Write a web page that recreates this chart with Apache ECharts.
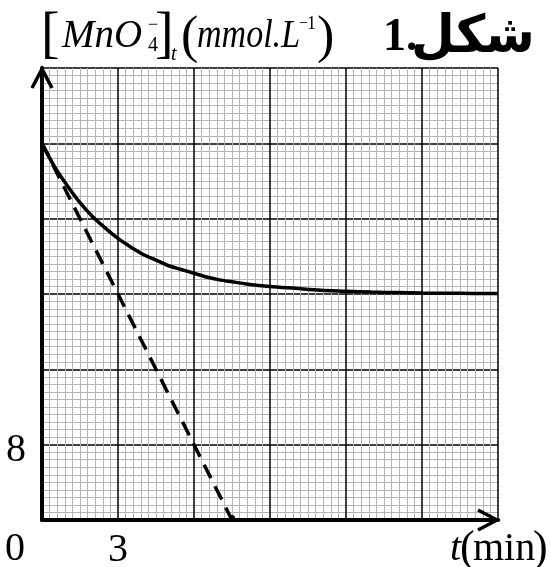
<!DOCTYPE html>
<html>
<head>
<meta charset="utf-8">
<script src="https://cdn.jsdelivr.net/npm/echarts@6/dist/echarts.min.js"></script>
<style>html,body{margin:0;padding:0;background:#fff}#c{width:550px;height:567px}</style>
</head>
<body>
<div id="c"></div>
<script>
// time in minutes
const curveT = [0, 0.5, 1, 1.5, 2, 2.5, 3, 3.5, 4, 4.5, 5, 5.5, 6, 6.5, 7, 7.5, 8, 9, 10, 11, 12, 13, 14, 15, 16, 17, 18];
// [MnO4-] in mmol/L
const curveC = [40, 37.5, 35.5, 33.7, 32.2, 31.0, 29.9, 29.0, 28.2, 27.6, 27.0, 26.6, 26.2, 25.8, 25.5, 25.3, 25.1, 24.8, 24.6, 24.4, 24.3, 24.2, 24.15, 24.1, 24.08, 24.06, 24.04];
// tangent at t = 0
const tangentT = [0, 7.5];
const tangentC = [40, 0];
const xTickLabels = ['3'];
const yTickLabels = ['8'];

const chart = echarts.init(document.getElementById('c'));
const serif = 'Liberation Serif';
const option = {
  animation: false,
  grid: {left: 42, right: 52, top: 68, bottom: 47, containLabel: false, outerBoundsMode: 'none'},
  xAxis: {
    type: 'value', min: 0, max: 18, interval: 3,
    axisLine: {show: true, lineStyle: {color: '#000', width: 4}},
    axisTick: {show: false},
    minorTick: {show: false, splitNumber: 10},
    minorSplitLine: {show: true, lineStyle: {color: '#b4b4b4', width: 1}},
    splitLine: {show: true, lineStyle: {color: '#000', width: 1.5}},
    axisLabel: {
      show: true, margin: 10, fontFamily: serif, fontSize: 40, color: '#000',
      formatter: v => xTickLabels.includes(String(v)) ? String(v) : ''
    }
  },
  yAxis: {
    type: 'value', min: 0, max: 48, interval: 8,
    axisLine: {show: true, lineStyle: {color: '#000', width: 4}},
    axisTick: {show: false},
    minorTick: {show: false, splitNumber: 10},
    minorSplitLine: {show: true, lineStyle: {color: '#b4b4b4', width: 1}},
    splitLine: {show: true, lineStyle: {color: '#000', width: 1.5}},
    axisLabel: {
      show: true, margin: 16, color: '#000', verticalAlign: 'middle',
      formatter: v => yTickLabels.includes(String(v)) ? '{a|' + v + '}' : '',
      rich: {a: {fontFamily: serif, fontSize: 40, color: '#000', padding: [12, 0, 0, 0]}}
    }
  },
  series: [
    {
      type: 'line', data: curveT.map((t, i) => [t, curveC[i]]), smooth: 0.3,
      showSymbol: false, lineStyle: {color: '#000', width: 3.5}, z: 5
    },
    {
      type: 'line', data: tangentT.map((t, i) => [t, tangentC[i]]),
      showSymbol: false, lineStyle: {color: '#000', width: 3.5, type: [15, 9]}, z: 4
    }
  ]
};
chart.setOption(option);

const xe = chart.convertToPixel({gridIndex: 0}, [18, 0]);
const ye = chart.convertToPixel({gridIndex: 0}, [0, 48]);
const end = chart.convertToPixel({gridIndex: 0}, [tangentT[1], tangentC[1]]);
const txt = (x, y, text, size, extra, sx) => ({
  type: 'text', x: x, y: y, z: 20, scaleX: sx || 1,
  style: Object.assign({text: text, fontFamily: serif, fontSize: size, fill: '#000', verticalAlign: 'middle', align: 'left'}, extra || {})
});
const it = {fontStyle: 'italic'};
chart.setOption({
  graphic: [
    {type: 'polyline', shape: {points: [[ye[0] - 10, ye[1] + 20], [ye[0], ye[1] + 1], [ye[0] + 10, ye[1] + 20]]}, style: {stroke: '#000', lineWidth: 3.5, fill: null}, z: 20},
    {type: 'polyline', shape: {points: [[xe[0] - 20, xe[1] - 10], [xe[0] - 1, xe[1]], [xe[0] - 20, xe[1] + 10]]}, style: {stroke: '#000', lineWidth: 3.5, fill: null}, z: 20},
    {type: 'circle', shape: {cx: end[0], cy: end[1] - 2, r: 3}, style: {fill: '#000'}, z: 20},
    txt(5, 549, '0', 40),
    // title pieces
    txt(41, 36, '[', 56),
    txt(62, 36, 'MnO', 41, it, 0.95),
    txt(148, 25, '\u2212', 18),
    txt(148, 46, '4', 20),
    txt(155, 36, ']', 56),
    txt(171, 55, 't', 20, it),
    txt(181, 38, '(', 52),
    txt(197, 36, 'mmol.L', 41, it, 0.83),
    txt(299, 24, '\u2212', 16),
    txt(307, 24, '1', 18),
    txt(317, 38, ')', 52),
    txt(383, 38, '1.', 46, {fontWeight: 'bold'}),
    txt(411, 38, '\u0634\u0643\u0644', 52, {fontFamily: 'DejaVu Sans', fontWeight: 'bold'}, 0.97),
    // x axis name
    txt(450, 549, 't', 40, it),
    txt(460, 549, '(', 44),
    txt(473, 549, 'min', 40),
    txt(533, 549, ')', 44)
  ]
});
</script>
</body>
</html>
